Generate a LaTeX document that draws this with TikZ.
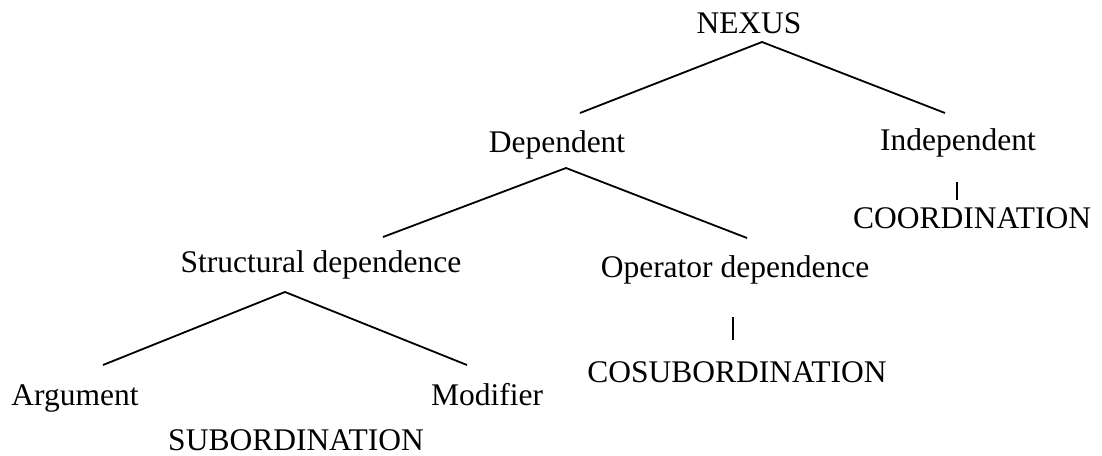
\documentclass[tikz,border=0pt]{standalone}
\usepackage{fontspec}
\setmainfont{Liberation Serif}
\begin{document}
\begin{tikzpicture}[x=1pt,y=-1pt,
  lbl/.style={anchor=base,inner sep=0pt,text depth=0pt,font=\fontsize{31.5}{36}\selectfont},
  edge/.style={line width=1.8pt},
  bar/.style={line width=1.4pt}]
\useasboundingbox (0,0) rectangle (1102,455);
\node[lbl] (nexus) at (749,33) {NEXUS};
\node[lbl] (dep) at (557,152) {Dependent};
\node[lbl] (indep) at (958,150) {Independent};
\node[lbl] (coord) at (972,228) {COORDINATION};
\node[lbl] (struct) at (321,272) {Structural dependence};
\node[lbl] (oper) at (735,277) {Operator dependence};
\node[lbl] (cosub) at (737,382) {COSUBORDINATION};
\node[lbl] (arg) at (75,405) {Argument};
\node[lbl] (mod) at (487,405) {Modifier};
\node[lbl] (sub) at (296,450) {SUBORDINATION};
% apexes and ends
\coordinate (nxA) at (762,42);
\coordinate (nxL) at (580,113);
\coordinate (nxR) at (945,113);
\coordinate (dpA) at (566,168);
\coordinate (dpL) at (383,237);
\coordinate (dpR) at (747,238);
\coordinate (stA) at (285,292);
\coordinate (stL) at (103,365);
\coordinate (stR) at (467,365);
\draw[edge] (nxL) -- (nxA) -- (nxR);
\draw[edge] (dpL) -- (dpA) -- (dpR);
\draw[edge] (stL) -- (stA) -- (stR);
\draw[bar] ([xshift=-1pt,yshift=-32pt]indep.base) -- ([xshift=-1pt,yshift=-50pt]indep.base);
\draw[bar] ([xshift=-2pt,yshift=-40pt]oper.base) -- ([xshift=-2pt,yshift=-63pt]oper.base);
\end{tikzpicture}
\end{document}
